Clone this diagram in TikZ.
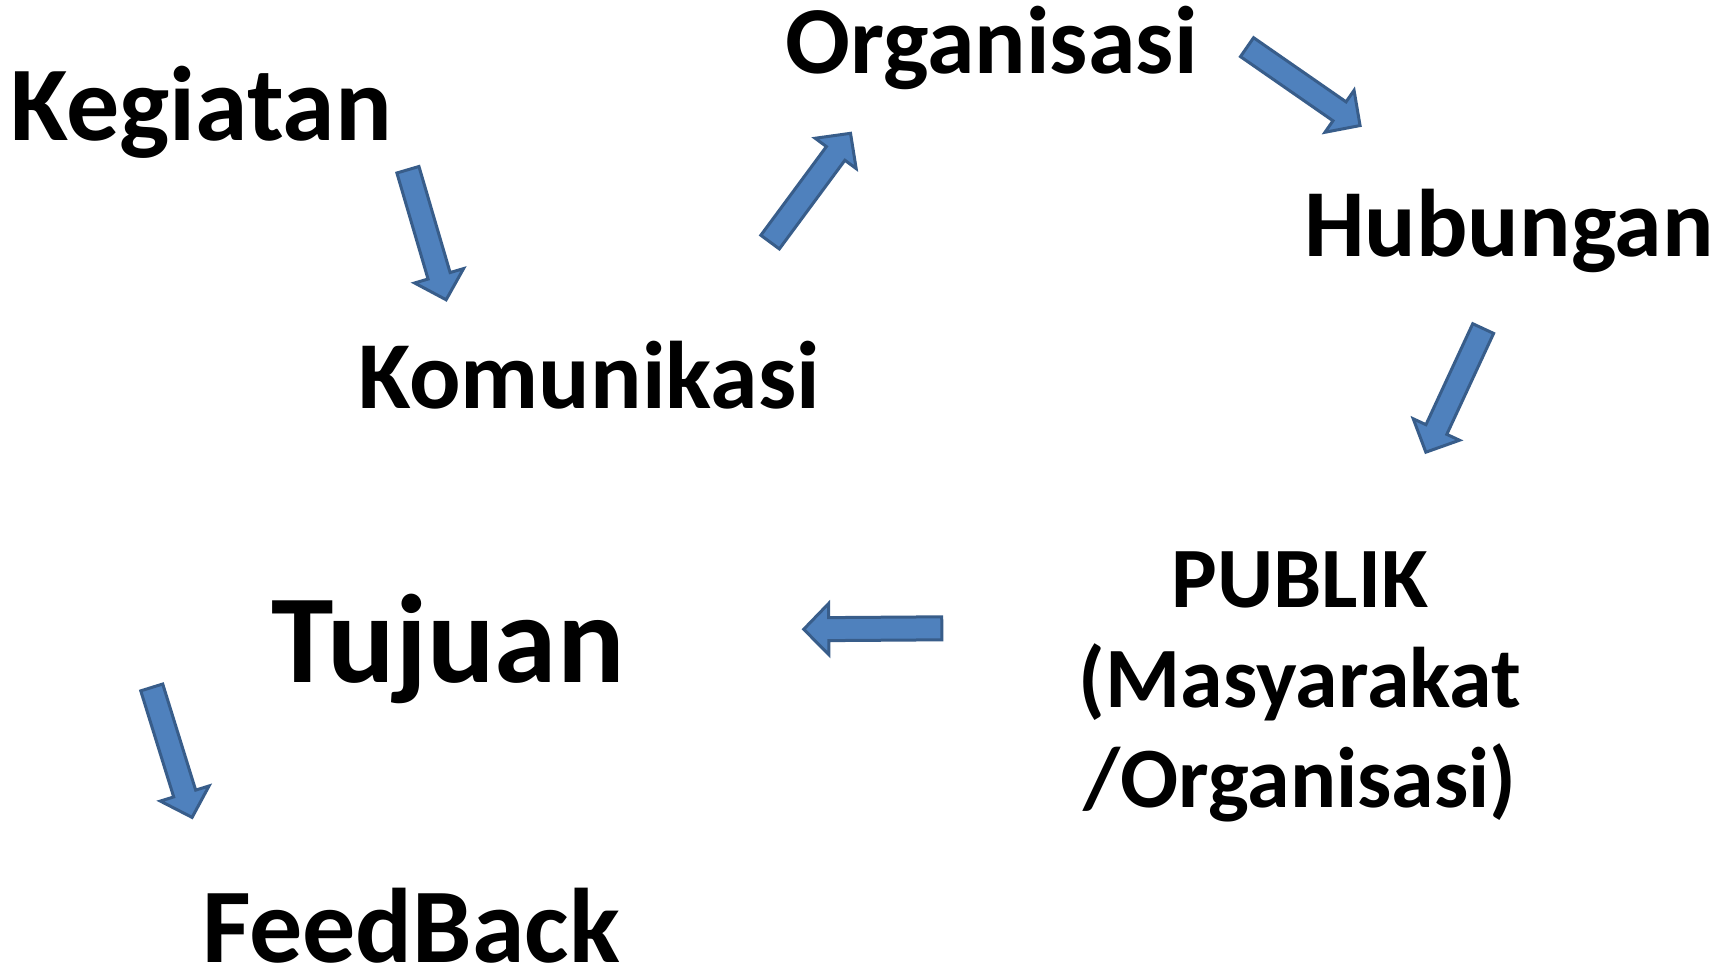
\documentclass[tikz,border=0pt]{standalone}
\usepackage{fontspec}
\setmainfont{Carlito}
\usetikzlibrary{calc}
\definecolor{arrowfill}{HTML}{4F81BD}
\definecolor{arrowline}{HTML}{385D8A}
\tikzset{
  lbl/.style={anchor=base, inner sep=0pt, font=\bfseries},
  blockarrow/.style={fill=arrowfill, draw=arrowline, line width=1.5pt, line join=miter},
}
\newcommand{\sw}{5.75pt}
\newcommand{\hw}{12.75pt}
\newcommand{\blkarrow}[2]{%
  \coordinate (#1-t) at ($(#1)!0.75pt!(#2)$);
  \coordinate (#1-p) at ($(#2)!1pt!(#1)$);
  \coordinate (#1-n) at ($(#1-p)!12.5pt!(#1-t)$);
  \draw[blockarrow] ($(#1-t)!\sw!90:(#1-p)$) -- ($(#1-n)!\sw!90:(#1-p)$)
    -- ($(#1-n)!\hw!90:(#1-p)$) -- (#1-p) -- ($(#1-n)!\hw!-90:(#1-p)$)
    -- ($(#1-n)!\sw!-90:(#1-p)$) -- ($(#1-t)!\sw!-90:(#1-p)$) -- cycle;
}
\begin{document}
\begin{tikzpicture}[x=0.5pt, y=-0.5pt]
\useasboundingbox[fill=white] (0,0) rectangle (1729,969);
% labels
\node[lbl, font=\bfseries\fontsize{53}{60}\selectfont] (keg) at (201,140) {Kegiatan};
\node[lbl, font=\bfseries\fontsize{48}{56}\selectfont] (org) at (991.5,73) {Organisasi};
\node[lbl, font=\bfseries\fontsize{48}{56}\selectfont] (hub) at (1509,256) {Hubungan};
\node[lbl, font=\bfseries\fontsize{48}{56}\selectfont] (kom) at (589,408) {Komunikasi};
\node[lbl, font=\bfseries\fontsize{43}{50}\selectfont, align=center] (pub) at (1300,807) {PUBLIK\\(Masyarakat\\/Organisasi)};
\node[lbl, font=\bfseries\fontsize{63}{70}\selectfont] (tuj) at (448,682) {Tujuan};
\node[lbl, font=\bfseries\fontsize{53}{60}\selectfont] (fb) at (411,962) {FeedBack};
% arrow end points
\coordinate (a1) at (407.5,168.3);  \coordinate (a1e) at (446.7,301.7);
\coordinate (a2) at (769.2,243.3);  \coordinate (a2e) at (851.7,131.7);
\coordinate (a3) at (1245.8,46.3);  \coordinate (a3e) at (1361.7,126.7);
\coordinate (a4) at (1483.8,327.2); \coordinate (a4e) at (1425,454);
\coordinate (a5) at (943.3,628.3);  \coordinate (a5e) at (801.7,629.3);
\coordinate (a6) at (151.3,686);    \coordinate (a6e) at (192.7,819.3);
\blkarrow{a1}{a1e}
\blkarrow{a2}{a2e}
\blkarrow{a3}{a3e}
\blkarrow{a4}{a4e}
\blkarrow{a5}{a5e}
\blkarrow{a6}{a6e}
\end{tikzpicture}
\end{document}
